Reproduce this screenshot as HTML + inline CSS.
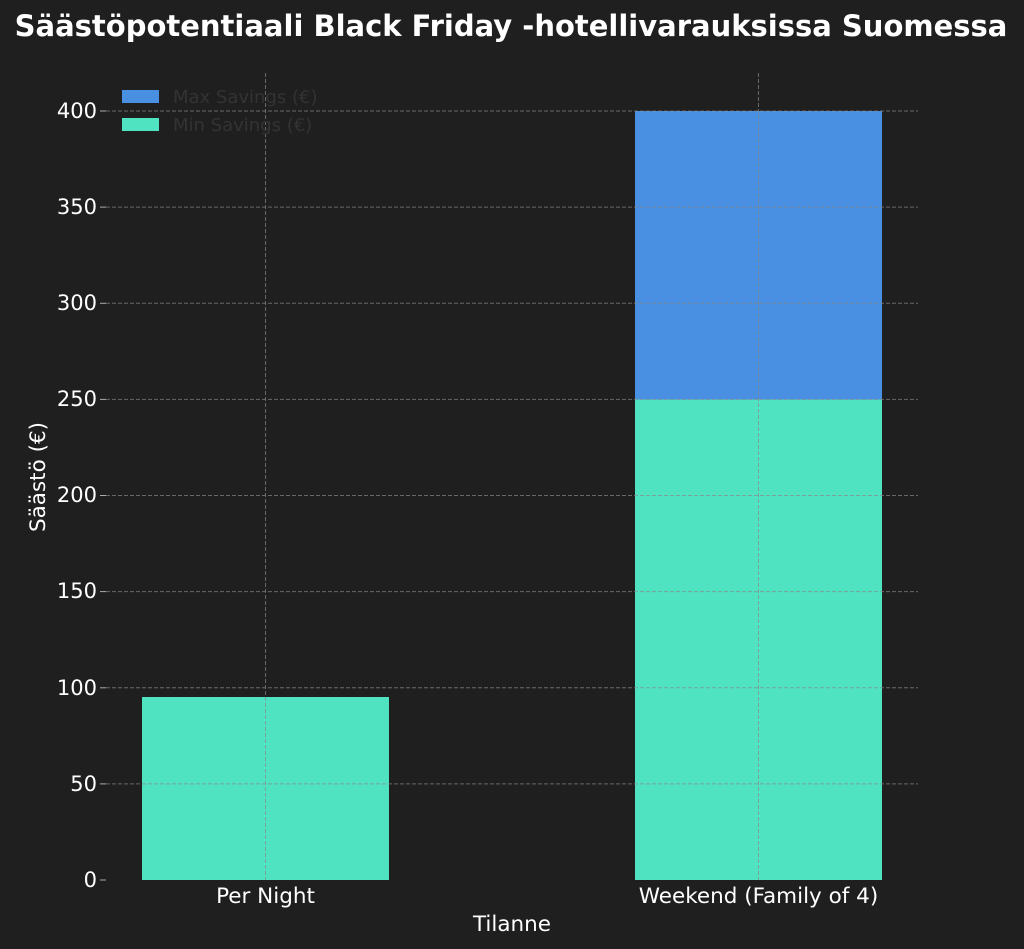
<!DOCTYPE html>
<html><head><meta charset="utf-8"><style>html,body{margin:0;padding:0;background:#1f1f1f}svg{display:block}</style></head>
<body>
<svg width="1024" height="949" xmlns="http://www.w3.org/2000/svg" font-family="'DejaVu Sans','Liberation Sans',sans-serif">
<rect width="1024" height="949" fill="#1f1f1f"/>
<text x="511" y="36" fill="#ffffff" font-size="29" font-weight="bold" text-anchor="middle">Säästöpotentiaali Black Friday -hotellivarauksissa Suomessa</text>
<rect x="142" y="697" width="247" height="183" fill="#50e3c2"/>
<rect x="635" y="399.5" width="247" height="480.5" fill="#50e3c2"/>
<rect x="635" y="111" width="247" height="288.5" fill="#4a90e2"/>
<g stroke="#888" stroke-opacity="0.7" stroke-width="1" stroke-dasharray="4,2">
<line x1="106" x2="918" y1="111" y2="111"/>
<line x1="106" x2="918" y1="207.1" y2="207.1"/>
<line x1="106" x2="918" y1="303.3" y2="303.3"/>
<line x1="106" x2="918" y1="399.4" y2="399.4"/>
<line x1="106" x2="918" y1="495.5" y2="495.5"/>
<line x1="106" x2="918" y1="591.6" y2="591.6"/>
<line x1="106" x2="918" y1="687.8" y2="687.8"/>
<line x1="106" x2="918" y1="783.9" y2="783.9"/>
<line x1="265.5" x2="265.5" y1="73" y2="880"/>
<line x1="758.5" x2="758.5" y1="73" y2="880"/>
</g>
<g stroke="#aaa" stroke-width="1">
<line x1="100" x2="106" y1="111" y2="111"/><line x1="100" x2="106" y1="207.1" y2="207.1"/>
<line x1="100" x2="106" y1="303.3" y2="303.3"/><line x1="100" x2="106" y1="399.4" y2="399.4"/>
<line x1="100" x2="106" y1="495.5" y2="495.5"/><line x1="100" x2="106" y1="591.6" y2="591.6"/>
<line x1="100" x2="106" y1="687.8" y2="687.8"/><line x1="100" x2="106" y1="783.9" y2="783.9"/>
<line x1="100" x2="106" y1="880" y2="880"/>
</g>
<g fill="#ffffff" font-size="21" text-anchor="end">
<text x="97" y="118">400</text><text x="97" y="214">350</text><text x="97" y="310">300</text>
<text x="97" y="406">250</text><text x="97" y="502">200</text><text x="97" y="598">150</text>
<text x="97" y="695">100</text><text x="97" y="791">50</text><text x="97" y="887">0</text>
</g>
<g fill="#ffffff" font-size="21.5" text-anchor="middle">
<text x="265.5" y="903">Per Night</text>
<text x="758.5" y="903">Weekend (Family of 4)</text>
<text x="512" y="931">Tilanne</text>
<text transform="translate(45,477) rotate(-90)">Säästö (€)</text>
</g>
<rect x="122" y="90" width="37" height="13" fill="#4a90e2"/>
<rect x="122" y="118" width="37" height="13" fill="#50e3c2"/>
<g fill="#333" font-size="18">
<text x="173" y="103">Max Savings (€)</text>
<text x="173" y="131">Min Savings (€)</text>
</g>
</svg>
</body></html>
